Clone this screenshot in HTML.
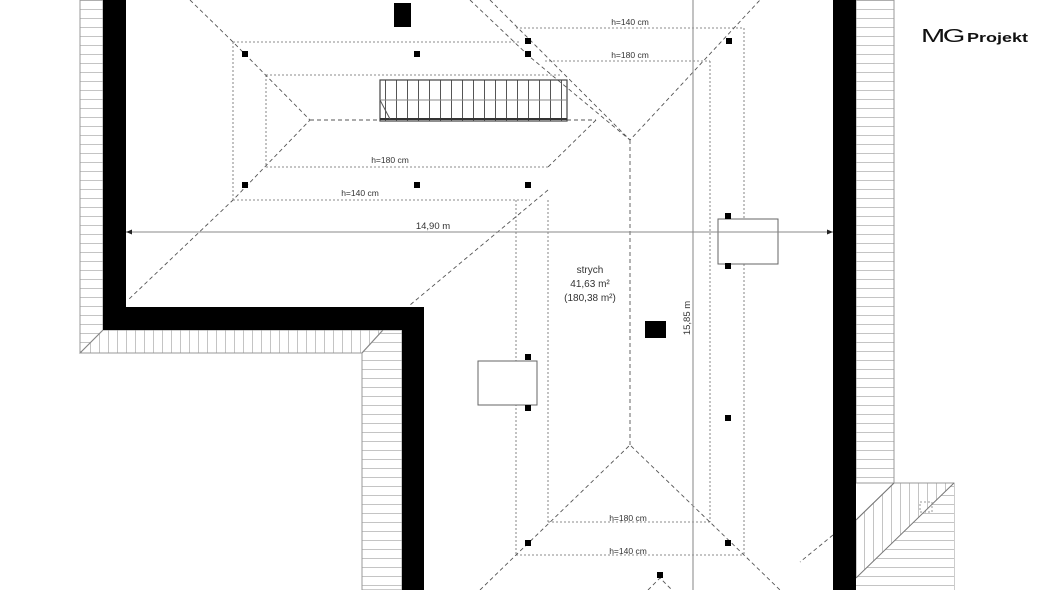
<!DOCTYPE html>
<html><head><meta charset="utf-8"><style>
html,body{margin:0;padding:0;background:#fff;}
svg{display:block;font-family:"Liberation Sans",sans-serif;}
</style></head><body>
<svg width="1060" height="590" viewBox="0 0 1060 590" xmlns="http://www.w3.org/2000/svg">
<defs>
<pattern id="hh" width="10" height="9" patternUnits="userSpaceOnUse"><rect width="10" height="9" fill="#fff"/><line x1="0" y1="0.5" x2="10" y2="0.5" stroke="#c4c4c4" stroke-width="1"/></pattern>
<pattern id="hv" width="9" height="10" patternUnits="userSpaceOnUse"><rect width="9" height="10" fill="#fff"/><line x1="0.5" y1="0" x2="0.5" y2="10" stroke="#c4c4c4" stroke-width="1"/></pattern>
<pattern id="st" width="11" height="42" patternUnits="userSpaceOnUse"><line x1="0.5" y1="0" x2="0.5" y2="42" stroke="#555" stroke-width="1"/></pattern>
</defs>
<rect width="1060" height="590" fill="#fff"/>
<rect x="80" y="0" width="23" height="353" fill="url(#hh)" stroke="#999" stroke-width="1"/>
<polygon points="103,330 383,330 362,353 80,353" fill="url(#hv)" stroke="#999"/>
<polygon points="383,330 402,330 402,590 362,590 362,353" fill="url(#hh)" stroke="#999"/>
<line x1="80" y1="353" x2="103" y2="330" stroke="#888"/>
<line x1="362" y1="353" x2="383" y2="330" stroke="#888"/>
<rect x="856" y="0" width="38" height="483" fill="url(#hh)" stroke="#999"/>
<polygon points="856,520 894,483 954,483 954,590 856,590" fill="url(#hv)" stroke="#999"/>
<polygon points="856,578 954,483 954,590 856,590" fill="url(#hh)"/>
<line x1="856" y1="520" x2="894" y2="483" stroke="#777"/>
<line x1="856" y1="578" x2="954" y2="483" stroke="#777"/>
<rect x="920" y="502" width="12" height="10" fill="none" stroke="#999" stroke-dasharray="2,2"/>
<rect x="103" y="0" width="23" height="330" fill="#000"/>
<rect x="103" y="307" width="321" height="23" fill="#000"/>
<rect x="402" y="307" width="22" height="283" fill="#000"/>
<rect x="833" y="0" width="23" height="590" fill="#000"/>
<g fill="none" stroke="#555" stroke-width="0.9" stroke-dasharray="4,3">
<polyline points="190,0 233,42 310,120 233,200 128,300"/>
<line x1="310" y1="120" x2="380" y2="120"/>
<line x1="567" y1="120" x2="596" y2="120"/>
<line x1="596" y1="120" x2="548" y2="167"/>
<polyline points="470,0 530,57 630,140 760,0"/>
<line x1="490" y1="0" x2="630" y2="140"/>
<line x1="630" y1="140" x2="630" y2="445"/>
<polyline points="548,190 410,305"/>
<polyline points="480,590 516,555 630,445 744,555 780,590"/>
<polyline points="648,590 660,578 672,590"/>
<line x1="833" y1="535" x2="800" y2="562"/>
</g>
<g fill="none" stroke="#666" stroke-width="0.8" stroke-dasharray="2,2">
<line x1="233" y1="42" x2="520" y2="42"/>
<line x1="233" y1="42" x2="233" y2="200"/>
<line x1="233" y1="200" x2="530" y2="200"/>
<line x1="266" y1="75" x2="560" y2="75"/>
<line x1="266" y1="75" x2="266" y2="167"/>
<line x1="266" y1="167" x2="548" y2="167"/>
<line x1="516" y1="28" x2="744" y2="28"/>
<line x1="545" y1="61" x2="710" y2="61"/>
<line x1="516" y1="200" x2="516" y2="555"/>
<line x1="548" y1="200" x2="548" y2="522"/>
<line x1="710" y1="61" x2="710" y2="522"/>
<line x1="744" y1="28" x2="744" y2="555"/>
<line x1="548" y1="522" x2="710" y2="522"/>
<line x1="516" y1="555" x2="744" y2="555"/>
</g>
<rect x="380" y="80" width="187" height="41" fill="url(#st)" stroke="#444" stroke-width="1.2"/>
<line x1="380" y1="100" x2="567" y2="100" stroke="#888"/>
<line x1="380" y1="119" x2="567" y2="119" stroke="#333" stroke-width="2"/>
<line x1="380" y1="100" x2="390" y2="119" stroke="#555"/>
<rect x="718" y="219" width="60" height="45" fill="#fff" stroke="#666"/>
<rect x="478" y="361" width="59" height="44" fill="#fff" stroke="#666"/>
<line x1="693" y1="0" x2="693" y2="590" stroke="#999" stroke-width="1.2"/>
<line x1="126" y1="232" x2="833" y2="232" stroke="#888" stroke-width="1"/>
<polygon points="126,232 132,229.5 132,234.5" fill="#222"/>
<polygon points="833,232 827,229.5 827,234.5" fill="#222"/>
<g fill="#000">
<rect x="242" y="51" width="6" height="6"/><rect x="414" y="51" width="6" height="6"/>
<rect x="525" y="38" width="6" height="6"/><rect x="525" y="51" width="6" height="6"/>
<rect x="726" y="38" width="6" height="6"/>
<rect x="242" y="182" width="6" height="6"/><rect x="414" y="182" width="6" height="6"/><rect x="525" y="182" width="6" height="6"/>
<rect x="725" y="213" width="6" height="6"/><rect x="725" y="263" width="6" height="6"/>
<rect x="525" y="354" width="6" height="6"/><rect x="525" y="405" width="6" height="6"/>
<rect x="725" y="415" width="6" height="6"/>
<rect x="525" y="540" width="6" height="6"/><rect x="725" y="540" width="6" height="6"/>
<rect x="657" y="572" width="6" height="6"/>
<rect x="394" y="3" width="17" height="24"/>
<rect x="645" y="321" width="21" height="17"/>
</g>
<g font-size="8.5" fill="#333" text-anchor="middle">
<text x="390" y="163">h=180 cm</text>
<text x="360" y="196">h=140 cm</text>
<text x="630" y="25">h=140 cm</text>
<text x="630" y="58">h=180 cm</text>
<text x="628" y="521">h=180 cm</text>
<text x="628" y="554">h=140 cm</text>
<text x="433" y="229" font-size="9.5">14,90 m</text>
<text x="0" y="0" font-size="9.5" transform="translate(690,318) rotate(-90)">15,85 m</text>
<text x="590" y="273" font-size="10">strych</text>
<text x="590" y="287" font-size="10">41,63 m²</text>
<text x="590" y="301" font-size="10">(180,38 m²)</text>
</g>
<text x="921" y="42" font-size="18" fill="#111" letter-spacing="-1.5" textLength="42" lengthAdjust="spacingAndGlyphs">MG</text>
<text x="967" y="42" font-size="13" fill="#111" font-weight="bold" textLength="61" lengthAdjust="spacingAndGlyphs">Projekt</text>
</svg>
</body></html>
